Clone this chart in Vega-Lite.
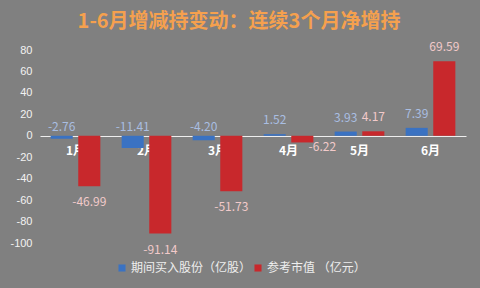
{
  "$schema": "https://vega.github.io/schema/vega-lite/v6.json",
  "autosize": {"type": "none"},
  "width": 426,
  "height": 193,
  "padding": {"left": 40, "top": 50, "right": 14, "bottom": 45},
  "background": "#808080",
  "title": {
    "text": "1-6月增减持变动：连续3个月净增持",
    "color": "#F5A04E",
    "font": "Noto Sans CJK SC",
    "fontSize": 20,
    "fontWeight": "bold",
    "anchor": "middle",
    "frame": "group",
    "dx": -14,
    "offset": 9
  },
  "data": {
    "values": [
      {"month": "1月", "series": "期间买入股份（亿股）", "value": -2.76},
      {"month": "2月", "series": "期间买入股份（亿股）", "value": -11.41},
      {"month": "3月", "series": "期间买入股份（亿股）", "value": -4.20},
      {"month": "4月", "series": "期间买入股份（亿股）", "value": 1.52},
      {"month": "5月", "series": "期间买入股份（亿股）", "value": 3.93},
      {"month": "6月", "series": "期间买入股份（亿股）", "value": 7.39},
      {"month": "1月", "series": "参考市值 （亿元）", "value": -46.99},
      {"month": "2月", "series": "参考市值 （亿元）", "value": -91.14},
      {"month": "3月", "series": "参考市值 （亿元）", "value": -51.73},
      {"month": "4月", "series": "参考市值 （亿元）", "value": -6.22},
      {"month": "5月", "series": "参考市值 （亿元）", "value": 4.17},
      {"month": "6月", "series": "参考市值 （亿元）", "value": 69.59}
    ]
  },
  "encoding": {
    "x": {
      "field": "month", "type": "nominal", "sort": null,
      "scale": {"paddingInner": 0.3, "paddingOuter": 0.15},
      "axis": {
        "title": null, "labelAngle": 0, "offset": -107,
        "domainColor": "#EEEEEE", "domainWidth": 1, "ticks": false,
        "labelPadding": 9, "labelColor": "#FFFFFF", "labelFontWeight": "bold",
        "labelFont": "Noto Sans CJK SC", "labelFontSize": 12
      }
    },
    "xOffset": {
      "field": "series", "type": "nominal",
      "scale": {"domain": ["期间买入股份（亿股）", "参考市值 （亿元）"], "paddingInner": 0.2, "paddingOuter": 0}
    },
    "y": {
      "field": "value", "type": "quantitative",
      "scale": {"domain": [-100, 80], "nice": false, "zero": true},
      "axis": {
        "title": null, "values": [-100, -80, -60, -40, -20, 0, 20, 40, 60, 80],
        "grid": false, "domain": false, "ticks": false, "labelPadding": 8,
        "labelColor": "#F2F2F2", "labelFont": "Liberation Sans", "labelFontSize": 11
      }
    }
  },
  "layer": [
    {
      "mark": {"type": "bar"},
      "encoding": {
        "color": {
          "field": "series", "type": "nominal",
          "scale": {"domain": ["期间买入股份（亿股）", "参考市值 （亿元）"], "range": ["#3A72C2", "#C8282C"]},
          "legend": {
            "title": null, "orient": "none", "direction": "horizontal",
            "legendX": 76, "legendY": 212, "symbolType": "square", "symbolSize": 50,
            "symbolStrokeWidth": 0, "labelColor": "#EEEEEE", "labelFont": "Noto Sans CJK SC",
            "labelFontSize": 12, "labelOffset": 3, "columnPadding": 0, "padding": 0
          }
        }
      }
    },
    {
      "transform": [{"filter": "datum.series === '期间买入股份（亿股）' && datum.value >= 0"}],
      "mark": {"type": "text", "dy": -14, "color": "#A9BEE2", "font": "Noto Sans CJK SC", "fontSize": 12},
      "encoding": {"text": {"field": "value", "type": "quantitative", "format": ".2f"}}
    },
    {
      "transform": [{"filter": "datum.series === '期间买入股份（亿股）' && datum.value < 0"}],
      "mark": {"type": "text", "dy": -9, "color": "#A9BEE2", "font": "Noto Sans CJK SC", "fontSize": 12},
      "encoding": {
        "y": {"datum": 0},
        "text": {"field": "value", "type": "quantitative", "format": ".2f"}
      }
    },
    {
      "transform": [{"filter": "datum.series === '参考市值 （亿元）' && datum.value >= 0"}],
      "mark": {"type": "text", "dy": -14, "color": "#F2CACA", "font": "Noto Sans CJK SC", "fontSize": 12},
      "encoding": {"text": {"field": "value", "type": "quantitative", "format": ".2f"}}
    },
    {
      "transform": [{"filter": "datum.series === '参考市值 （亿元）' && datum.value < -10"}],
      "mark": {"type": "text", "dy": 16, "color": "#F2CACA", "font": "Noto Sans CJK SC", "fontSize": 12},
      "encoding": {"text": {"field": "value", "type": "quantitative", "format": ".2f"}}
    },
    {
      "transform": [{"filter": "datum.series === '参考市值 （亿元）' && datum.value < 0 && datum.value >= -10"}],
      "mark": {"type": "text", "dx": 20, "dy": 5, "color": "#F2CACA", "font": "Noto Sans CJK SC", "fontSize": 12},
      "encoding": {"text": {"field": "value", "type": "quantitative", "format": ".2f"}}
    }
  ],
  "config": {
    "view": {"stroke": null},
    "locale": {"number": {"decimal": ".", "thousands": ",", "grouping": [3], "currency": ["$", ""], "minus": "-"}}
  }
}
